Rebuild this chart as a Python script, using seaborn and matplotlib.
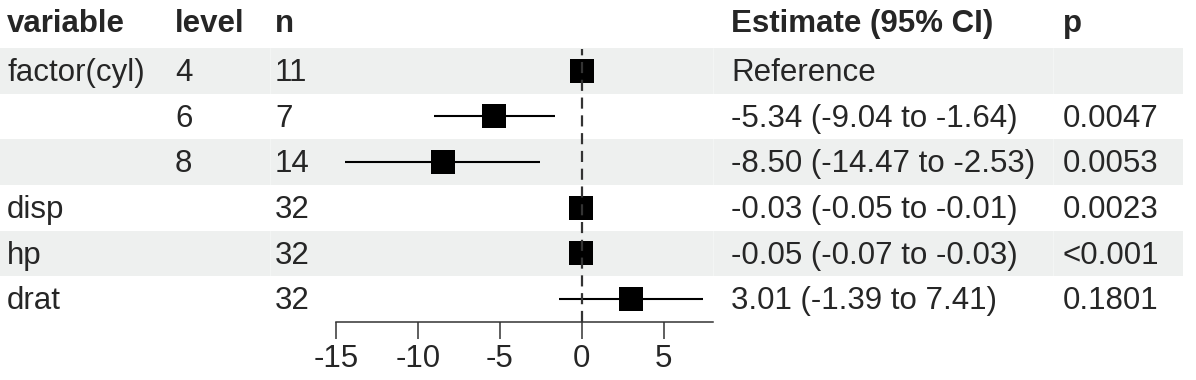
import matplotlib
matplotlib.use("Agg")
import matplotlib.pyplot as plt
import seaborn as sns
import pandas as pd

# forest plot data (lm of mpg in mtcars)
variables = ["factor(cyl)", "", "", "disp", "hp", "drat"]
levels = ["4", "6", "8", "", "", ""]
n_obs = ["11", "7", "14", "32", "32", "32"]
estimate = [0.0, -5.34, -8.50, -0.03, -0.05, 3.01]
ci_low = [0.0, -9.04, -14.47, -0.05, -0.07, -1.39]
ci_high = [0.0, -1.64, -2.53, -0.01, -0.03, 7.41]
est_labels = ["Reference", "-5.34 (-9.04 to -1.64)", "-8.50 (-14.47 to -2.53)",
              "-0.03 (-0.05 to -0.01)", "-0.05 (-0.07 to -0.03)", "3.01 (-1.39 to 7.41)"]
p_labels = ["", "0.0047", "0.0053", "0.0023", "<0.001", "0.1801"]
x_ticks = [-15, -10, -5, 0, 5]

df = pd.DataFrame({"row": range(len(estimate)), "estimate": estimate,
                   "low": ci_low, "high": ci_high})

sns.set_style("white")
plt.rcParams["font.family"] = ["Liberation Sans", "DejaVu Sans"]
plt.rcParams["axes.unicode_minus"] = False

W, H = 1196, 380
fig = plt.figure(figsize=(W / 100, H / 100), dpi=100)

# background axes in pixel coordinates for the table part
bg = fig.add_axes([0, 0, 1, 1])
bg.set_xlim(0, W)
bg.set_ylim(H, 0)
bg.axis("off")

row_top = 48
row_h = 45.67
shade = "#eef0ef"
for i in range(len(estimate)):
    if i % 2 == 0:
        bg.add_patch(plt.Rectangle((0, row_top + i * row_h), 1183, row_h,
                                   facecolor=shade, edgecolor="none"))
for xb in [270, 713, 1053]:
    bg.plot([xb, xb], [row_top, row_top + 6 * row_h], color="white", lw=0.6, alpha=0.4)

fs = 22.5
cols = {"variable": 7, "level": 175, "n": 275, "Estimate (95% CI)": 731, "p": 1063}
for name, x in cols.items():
    bg.text(x, 24, name, fontsize=fs, fontweight="bold", va="center", ha="left")

for i in range(len(estimate)):
    yc = row_top + (i + 0.5) * row_h + 2
    bg.text(7, yc, variables[i], fontsize=fs, va="center")
    bg.text(175, yc, levels[i], fontsize=fs, va="center")
    bg.text(275, yc, n_obs[i], fontsize=fs, va="center")
    bg.text(731, yc, est_labels[i], fontsize=fs, va="center")
    bg.text(1063, yc, p_labels[i], fontsize=fs, va="center")

# forest panel
left, right = 336, 713
bottom = 322
ax = fig.add_axes([left / W, 1 - bottom / H, (right - left) / W, (bottom - row_top) / H])
ax.patch.set_alpha(0)
ax.hlines(df["row"], df["low"], df["high"], color="black", lw=1.5, zorder=2)
sns.scatterplot(data=df, x="estimate", y="row", marker="s", s=310, color="black",
                edgecolor="black", linewidth=0, ax=ax, zorder=3, legend=False)
ax.axvline(0, color="#333333", lw=1.6, ls=(0, (5, 3)), zorder=4, ymax=0.995)
ax.set_xlim(-15, 8)
ax.set_ylim(5.5, -0.5)
ax.set_xticks(x_ticks)
ax.set_yticks([])
ax.set_xlabel("")
ax.set_ylabel("")
for s in ["top", "right", "left"]:
    ax.spines[s].set_visible(False)
ax.spines["bottom"].set_color("#333333")
ax.spines["bottom"].set_linewidth(1.1)
ax.tick_params(axis="x", direction="out", length=12.5, width=1.1, color="#333333",
               labelsize=fs, pad=3.5, bottom=True)

fig.savefig("out.png", dpi=100)
